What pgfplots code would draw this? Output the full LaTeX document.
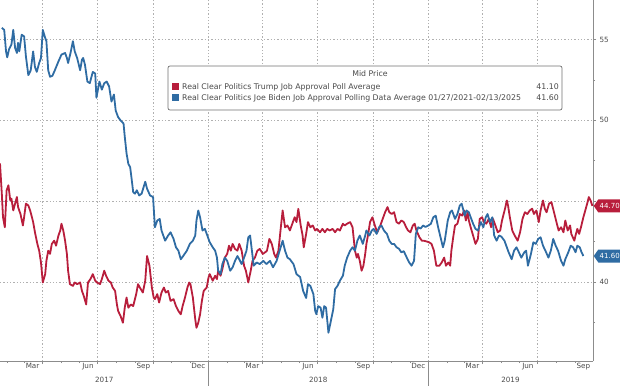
\documentclass[border=0pt]{standalone}
\usepackage{pgfplots}
\pgfplotsset{compat=1.18}
\usepackage{fontspec}
\setmainfont{DejaVu Sans}
\usetikzlibrary{shapes.symbols}
\definecolor{rcpred}{HTML}{B81E3C}
\definecolor{rcpblue}{HTML}{2F6CA3}
\definecolor{gridc}{HTML}{B0B0B0}
\definecolor{axc}{HTML}{8C8C8C}
\definecolor{txt}{HTML}{4A4A4A}
\begin{document}
\begin{tikzpicture}[x=1pt,y=1pt]
\begin{axis}[
  at={(0,0)}, anchor=south west,
  scale only axis, width=593pt, height=361pt,
  xmin=0, xmax=984, ymin=35.1, ymax=57.45,
  axis x line*=bottom, axis y line*=right,
  axis line style={axc, line width=0.8pt},
  /pgf/number format/assume math mode=true,
  ytick={40,45,50,55}, yticklabels={40,,50,55},
  minor ytick={37.5,42.5,47.5,52.5},
  ymajorgrids=true, xmajorgrids=true,
  major grid style={gridc, dash pattern=on 1.3pt off 2pt, line width=0.7pt},
  yticklabel style={font=\fontsize{7.2}{8}\selectfont, text=txt},
  xtick={71,162,254,346,436,527,619,711,801,892},
  xticklabels={},
  minor xtick={12,40,71,101,132,162,193,224,254,285,315,346,377,405,436,466,497,527,558,589,619,650,680,711,742,770,801,831,862,892,923,954},
  extra x ticks={54,146,238,329,419,511,603,694,784,876,968},
  extra x tick labels={Mar,Jun,Sep,Dec,Mar,Jun,Sep,Dec,Mar,Jun,Sep},
  extra x tick style={xmajorgrids=false, major tick length=0pt,
     tick style={draw=none},
     xticklabel style={font=\fontsize{7.2}{8}\selectfont, text=txt, yshift=1.5pt}},
  tick align=outside, major tick length=3pt, minor tick length=2pt,
  tick style={axc, line width=0.6pt},
  clip=false,
]
% Trump (red)
\addplot[rcpred, line width=1.8pt, line join=round] coordinates {
(0,47.33)(3,45.46)(5,44.0)(8,43.38)(11,45.67)(14,45.98)(17,45.04)(19,45.15)(22,44.42)(25,44.84)
(28,45.25)(30,44.63)(34,44.2)(38,43.49)(40,44.0)(43,44.84)(47,44.73)(50,44.42)(53,44.0)(55,43.7)
(58,43.07)(62,42.35)(65,41.93)(68,41.2)(71,39.96)(75,40.48)(77,41.3)(80,41.93)(83,41.73)(86,42.35)
(90,42.55)(93,42.24)(97,42.87)(100,43.18)(102,43.6)(105,43.18)(108,42.55)(111,41.73)(113,40.69)(116,39.86)
(121,39.75)(124,39.96)(128,39.86)(133,39.96)(136,39.44)(139,39.13)(143,38.6)(146,39.96)(150,40.17)(154,40.48)
(158,40.07)(161,39.96)(166,39.86)(169,40.17)(173,40.69)(176,40.38)(180,40.07)(184,39.96)(187,39.65)(191,39.44)
(194,38.6)(196,38.2)(200,37.89)(204,37.47)(207,38.4)(210,39.03)(213,38.4)(217,38.6)(221,38.5)(226,39.24)
(229,39.86)(232,39.65)(237,39.34)(241,40.07)(244,41.6)(248,41.0)(252,39.65)(255,39.03)(257,38.93)(261,39.24)
(264,38.72)(268,39.34)(272,39.65)(275,39.34)(279,39.44)(283,38.82)(288,38.93)(292,38.5)(296,38.2)(300,37.99)
(303,38.5)(307,39.03)(311,39.65)(314,39.96)(316,39.86)(320,39.03)(324,37.68)(326,37.16)(329,37.47)(332,37.99)
(335,38.82)(338,39.44)(343,39.65)(346,40.27)(348,40.48)(353,40.07)(357,40.38)(360,40.17)(362,40.69)(366,40.38)
(369,40.79)(373,41.5)(377,41.73)(380,42.24)(383,41.93)(386,42.35)(390,42.04)(394,41.93)(397,42.35)(401,41.93)
(405,41.0)(408,40.69)(412,39.96)(416,40.69)(419,41.3)(423,41.5)(427,41.93)(431,42.04)(436,41.73)(440,41.83)
(443,41.93)(447,42.66)(451,42.35)(455,41.73)(458,41.5)(462,41.93)(466,43.38)(469,44.42)(473,43.38)(477,43.49)
(481,43.18)(486,43.7)(489,44.0)(492,43.7)(495,44.52)(499,43.49)(502,42.9)(504,42.14)(508,42.97)(511,43.7)
(515,43.38)(519,43.49)(523,43.18)(526,43.28)(531,43.07)(535,43.28)(539,43.07)(543,43.28)(547,43.18)(552,43.28)
(556,43.07)(560,43.28)(564,43.18)(569,43.6)(572,43.49)(576,43.6)(581,43.7)(585,43.38)(589,41.93)(592,41.5)
(594,41.73)(597,41.3)(600,40.69)(603,41.0)(606,41.73)(608,42.35)(611,42.97)(614,43.7)(618,44.0)(622,43.49)
(626,43.07)(630,43.38)(635,43.9)(639,44.31)(643,44.63)(646,44.31)(650,44.2)(654,44.31)(658,43.7)(662,43.6)
(666,43.8)(670,43.7)(674,43.38)(677,43.18)(681,43.07)(685,43.49)(688,43.6)(691,43.18)(696,42.76)(700,42.55)
(703,42.55)(708,42.5)(712,42.45)(716,42.35)(720,41.93)(724,41.0)(729,41.0)(733,41.2)(737,41.5)(740,41.0)
(744,41.2)(747,41.0)(749,41.93)(752,42.76)(755,43.49)(759,43.6)(763,44.2)(767,44.1)(770,44.42)(773,43.8)
(776,44.31)(778,43.8)(781,43.38)(785,42.87)(789,42.35)(793,42.66)(796,43.9)(800,44.0)(803,43.7)(807,43.6)
(811,43.9)(815,43.38)(818,43.9)(822,43.49)(826,43.07)(830,43.18)(833,43.8)(838,44.53)(841,45.04)(843,44.73)
(846,44.0)(850,43.18)(854,42.87)(859,42.55)(863,43.07)(867,43.9)(871,44.31)(875,44.2)(879,44.42)(883,44.53)
(886,44.2)(890,44.42)(894,43.7)(897,44.42)(901,45.04)(904,44.53)(907,44.31)(911,44.84)(915,44.94)(920,44.2)
(924,43.6)(927,43.18)(931,43.38)(935,43.07)(938,43.8)(942,43.18)(946,43.49)(948,42.97)(953,42.55)(955,42.87)
(958,43.28)(961,42.97)(964,43.38)(968,44.0)(972,44.53)(975,44.94)(977,45.25)(980,45.04)(983,44.7)
};
% Biden (blue)
\addplot[rcpblue, line width=1.8pt, line join=round] coordinates {
(3,55.73)(7,55.6)(10,54.27)(12,53.9)(15,54.4)(19,54.7)(22,55.6)(25,54.5)(28,54.17)(30,54.8)
(32,54.27)(36,55.3)(40,55.2)(43,53.96)(47,52.8)(51,53.1)(55,54.27)(58,53.3)(61,53.0)(65,53.55)
(68,53.86)(71,55.6)(75,55.1)(77,54.9)(80,53.1)(83,52.7)(87,52.76)(91,53.1)(97,53.65)(102,54.07)
(108,54.17)(111,53.86)(113,53.55)(117,54.17)(121,54.9)(124,54.27)(128,53.86)(133,53.1)(136,53.75)(138,53.86)
(141,53.44)(145,52.4)(149,52.3)(154,53.0)(158,52.9)(160,51.4)(165,52.4)(169,51.9)(173,52.3)(177,52.4)
(181,52.1)(185,51.16)(189,51.6)(192,50.6)(196,50.2)(200,50.0)(205,49.8)(207,49.0)(210,47.95)(213,47.3)
(216,47.1)(218,46.5)(221,45.56)(224,45.46)(227,45.67)(231,45.35)(235,45.46)(241,46.2)(244,45.77)(249,45.35)
(254,45.25)(257,43.38)(261,43.8)(265,43.9)(268,43.18)(274,42.55)(279,42.87)(283,43.07)(288,42.66)(292,42.14)
(296,41.93)(300,41.4)(304,41.6)(310,41.93)(315,42.35)(320,42.55)(324,42.87)(326,43.8)(329,44.42)(332,44.0)
(336,43.18)(340,43.28)(344,42.87)(348,42.45)(353,42.14)(357,41.93)(360,41.5)(362,40.69)(366,40.48)(369,41.1)
(373,41.5)(377,41.3)(382,40.69)(386,40.9)(390,41.3)(394,41.6)(397,41.4)(401,41.1)(405,41.5)(409,41.93)
(412,42.76)(415,42.87)(418,41.93)(421,41.0)(426,41.2)(431,41.1)(437,41.3)(442,41.1)(448,41.3)(453,40.9)
(459,41.3)(464,41.93)(469,42.55)(473,41.93)(477,41.5)(481,41.4)(487,41.1)(492,40.48)(498,40.3)(503,39.44)
(508,39.0)(511,39.86)(515,39.75)(520,39.24)(523,38.2)(525,38.0)(528,38.5)(532,38.4)(535,37.78)(538,38.5)
(541,38.4)(545,36.85)(549,37.58)(553,38.3)(556,39.55)(560,39.75)(564,40.07)(569,40.38)(572,41.0)(576,41.5)
(581,41.93)(585,42.14)(589,41.93)(593,42.55)(597,42.87)(602,42.35)(606,42.87)(608,43.18)(613,42.87)(617,43.18)
(620,43.28)(625,42.97)(629,43.38)(633,43.49)(637,43.18)(642,42.97)(646,42.55)(650,42.35)(654,42.35)(658,42.14)
(662,42.05)(666,41.83)(670,41.9)(675,41.5)(679,41.2)(683,41.0)(687,41.3)(690,42.97)(694,43.38)(698,43.3)
(702,43.49)(706,43.4)(711,43.49)(715,43.6)(719,44.0)(723,44.1)(727,43.38)(731,42.76)(735,42.14)(738,42.55)
(743,43.8)(747,44.31)(750,44.42)(755,43.9)(759,44.2)(763,44.73)(766,44.84)(769,44.42)(771,44.1)(774,44.42)
(778,44.31)(781,44.0)(785,43.6)(789,43.28)(793,43.18)(798,43.7)(802,43.38)(806,44.0)(809,44.2)(813,43.7)
(817,44.0)(820,42.87)(824,42.55)(828,42.87)(832,42.8)(837,42.55)(841,42.14)(844,41.83)(849,41.4)(853,41.93)
(857,42.14)(861,41.83)(865,41.5)(870,41.83)(873,41.93)(876,41.0)(881,41.73)(885,42.45)(889,42.35)(893,42.66)
(897,42.76)(901,42.24)(905,41.93)(910,41.5)(914,41.93)(918,42.66)(922,42.24)(926,41.93)(931,41.3)(935,41.0)
(938,41.4)(943,41.83)(947,42.24)(951,42.14)(955,41.83)(958,42.24)(962,42.14)(965,41.83)(968,41.6)
};
% year separators and year labels
\draw[axc, line width=0.6pt] (axis cs:346,35.1) -- ++(0,-24pt);
\draw[axc, line width=0.6pt] (axis cs:711,35.1) -- ++(0,-24pt);
\node[font=\fontsize{7.2}{8}\selectfont, text=txt] at ([yshift=-19pt]axis cs:173,35.1) {2017};
\node[font=\fontsize{7.2}{8}\selectfont, text=txt] at ([yshift=-19pt]axis cs:528,35.1) {2018};
\node[font=\fontsize{7.2}{8}\selectfont, text=txt] at ([yshift=-19pt]axis cs:847,35.1) {2019};
\coordinate (rt) at (axis cs:984,44.7);
\coordinate (bt) at (axis cs:984,41.6);
\end{axis}
% value tags
\node[signal, signal to=west, signal pointer angle=110, fill=rcpred, text=white, inner sep=1.4pt,
      minimum height=13pt, anchor=west, font=\fontsize{7}{8}\selectfont] at ([xshift=0.5pt]rt) {44.70};
\node[signal, signal to=west, signal pointer angle=110, fill=rcpblue, text=white, inner sep=1.4pt,
      minimum height=13pt, anchor=west, font=\fontsize{7}{8}\selectfont] at ([xshift=0.5pt]bt) {41.60};
% legend
\draw[fill=white, draw=axc!80!black, line width=0.7pt, rounded corners=2pt] (168,251) rectangle (562,295);
\node[font=\fontsize{7.8}{8}\selectfont, text=txt] at (370,287) {Mid Price};
\fill[rcpred] (172,270.5) rectangle (179,277.5);
\node[anchor=west, font=\fontsize{7.8}{8}\selectfont, text=txt, inner sep=0pt] at (182,274) {Real Clear Politics Trump Job Approval Poll Average};
\node[anchor=east, font=\fontsize{7.8}{8}\selectfont, text=txt, inner sep=0pt] at (559,274) {41.10};
\fill[rcpblue] (172,259.5) rectangle (179,266.5);
\node[anchor=west, font=\fontsize{7.8}{8}\selectfont, text=txt, inner sep=0pt] at (182,263) {Real Clear Politics Joe Biden Job Approval Polling Data Average 01/27/2021-02/13/2025};
\node[anchor=east, font=\fontsize{7.8}{8}\selectfont, text=txt, inner sep=0pt] at (559,263) {41.60};
\pgfresetboundingbox
\path (0,-24) rectangle (620,361);
\end{tikzpicture}
\end{document}
